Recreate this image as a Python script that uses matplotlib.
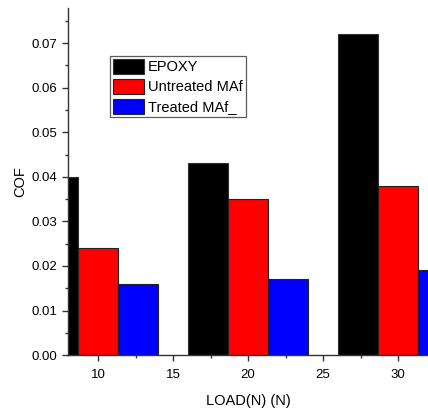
import numpy as np
import matplotlib.pyplot as plt
from matplotlib.ticker import MultipleLocator

plt.rcParams['font.family'] = ['Liberation Sans', 'DejaVu Sans']

# data
loads = [10, 20, 30]
epoxy = [0.040, 0.043, 0.072]
untreated = [0.024, 0.035, 0.038]
treated = [0.016, 0.017, 0.019]
labels = ['EPOXY', 'Untreated MAf', 'Treated MAf_']

fig = plt.figure(figsize=(4.28, 4.13), dpi=100)
ax = fig.add_axes([0.159, 0.140, 0.841, 0.840])

w = 8 / 3.0
x = np.array(loads, dtype=float)
ax.bar(x - w, epoxy, w, color='black', edgecolor='#333333', linewidth=0.8, label=labels[0])
ax.bar(x, untreated, w, color='#ff0000', edgecolor='#222222', linewidth=0.8, label=labels[1])
ax.bar(x + w, treated, w, color='#0000ff', edgecolor='#222222', linewidth=0.8, label=labels[2])

ax.set_xlim(8, 32)
ax.set_ylim(0, 0.0778)
ax.xaxis.set_major_locator(MultipleLocator(5))
ax.xaxis.set_minor_locator(MultipleLocator(2.5))
ax.yaxis.set_major_locator(MultipleLocator(0.01))
ax.yaxis.set_minor_locator(MultipleLocator(0.005))
ax.yaxis.set_major_formatter(plt.FormatStrFormatter('%.2f'))

for s in ['top', 'right']:
    ax.spines[s].set_visible(False)
for s in ['left', 'bottom']:
    ax.spines[s].set_color('#333333')
    ax.spines[s].set_linewidth(1.0)

ax.tick_params(which='major', direction='out', length=4, width=1, color='#333333', labelsize=9.5)
ax.tick_params(axis='x', which='major', pad=6)
ax.tick_params(which='minor', direction='out', length=2.5, width=1, color='#333333')

ax.set_xlabel('LOAD(N) (N)', fontsize=10.5, labelpad=9)
ax.set_ylabel('COF', fontsize=10.5, labelpad=3)

leg = ax.legend(loc='upper left', bbox_to_anchor=(0.117, 0.863), fontsize=10.5,
                frameon=True, fancybox=False, borderpad=0.2, handlelength=2.1,
                handleheight=1.25, handletextpad=0.3, labelspacing=0.3,
                borderaxespad=0)
leg.get_frame().set_edgecolor('#333333')
leg.get_frame().set_linewidth(0.9)

fig.savefig('out.png', dpi=100)
